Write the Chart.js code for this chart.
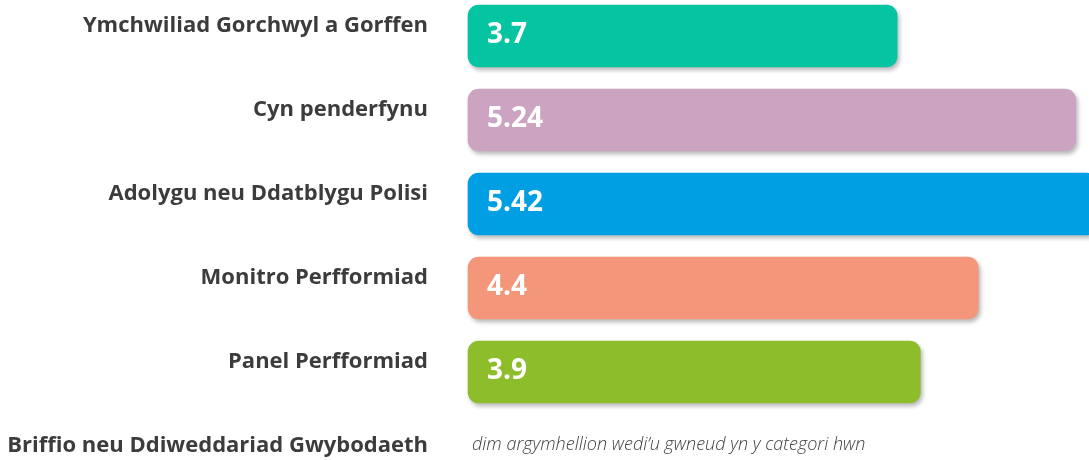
<!DOCTYPE html>
<html>
<head>
<meta charset="utf-8">
<script src="https://cdn.jsdelivr.net/npm/chart.js@4.4.1/dist/chart.umd.min.js"></script>
<style>
  html, body { margin: 0; padding: 0; background: #fff; }
  #wrap { width: 1089px; height: 460px; position: relative; }
</style>
</head>
<body>
<div id="wrap"><canvas id="chart"></canvas></div>
<script>
const categories = [
  'Ymchwiliad Gorchwyl a Gorffen',
  'Cyn penderfynu',
  'Adolygu neu Ddatblygu Polisi',
  'Monitro Perfformiad',
  'Panel Perfformiad',
  'Briffio neu Ddiweddariad Gwybodaeth',
]
const values = [3.7, 5.24, 5.42, 4.4, 3.9, null]
const barColors = ['#04c4a1', '#cca4c2', '#009fe3', '#f4967a', '#8dbd2a']
const emptyNote = 'dim argymhellion wedi\u2019u gwneud yn y categori hwn'

const barShadow = {
  id: 'barShadow',
  beforeDatasetsDraw(chart) {
    const ctx = chart.ctx
    ctx.save()
    ctx.shadowColor = 'rgba(0, 0, 0, 0.28)'
    ctx.shadowBlur = 4
    ctx.shadowOffsetX = 2
    ctx.shadowOffsetY = 3
  },
  afterDatasetsDraw(chart) {
    chart.ctx.restore()
  },
}

const valueLabels = {
  id: 'valueLabels',
  afterDatasetsDraw(chart) {
    const ctx = chart.ctx
    const meta = chart.getDatasetMeta(0)
    ctx.save()
    ctx.fillStyle = '#ffffff'
    ctx.font = '700 28px "Open Sans"'
    ctx.textBaseline = 'middle'
    ctx.textAlign = 'left'
    meta.data.forEach((bar, i) => {
      const v = values[i]
      if (v == null) return
      ctx.fillText(String(v), bar.base + 19, bar.y - 1)
    })
    // note for the empty category
    const xs = chart.scales.x
    const ys = chart.scales.y
    values.forEach((v, i) => {
      if (v != null) return
      ctx.fillStyle = '#404040'
      ctx.font = 'italic 300 18px "Open Sans"'
      ctx.fillText(emptyNote, xs.getPixelForValue(0) + 4, ys.getPixelForValue(i) - 11)
    })
    ctx.restore()
  },
}

new Chart(document.getElementById('chart'), {
  type: 'bar',
  data: {
    labels: categories,
    datasets: [{
      data: values,
      backgroundColor: barColors,
      borderRadius: 11,
      borderSkipped: false,
      barThickness: 62,
      clip: false,
    }],
  },
  options: {
    indexAxis: 'y',
    responsive: true,
    maintainAspectRatio: false,
    animation: false,
    layout: { padding: { top: 36, right: 0, bottom: 4, left: 0 } },
    plugins: {
      legend: { display: false },
      tooltip: { enabled: false },
    },
    scales: {
      x: {
        display: false,
        min: 0,
        max: 5.354,
      },
      y: {
        offset: false,
        grid: { display: false, drawTicks: false },
        border: { display: false },
        afterFit: (scale) => {
          scale.width = 468
          scale.paddingTop = 0
          scale.paddingBottom = 0
        },
        ticks: {
          padding: 40,
          labelOffset: -10,
          color: '#3c3c3c',
          font: { family: '"Open Sans"', size: 22, weight: '700' },
        },
      },
    },
  },
  plugins: [barShadow, valueLabels],
})
</script>
</body>
</html>
